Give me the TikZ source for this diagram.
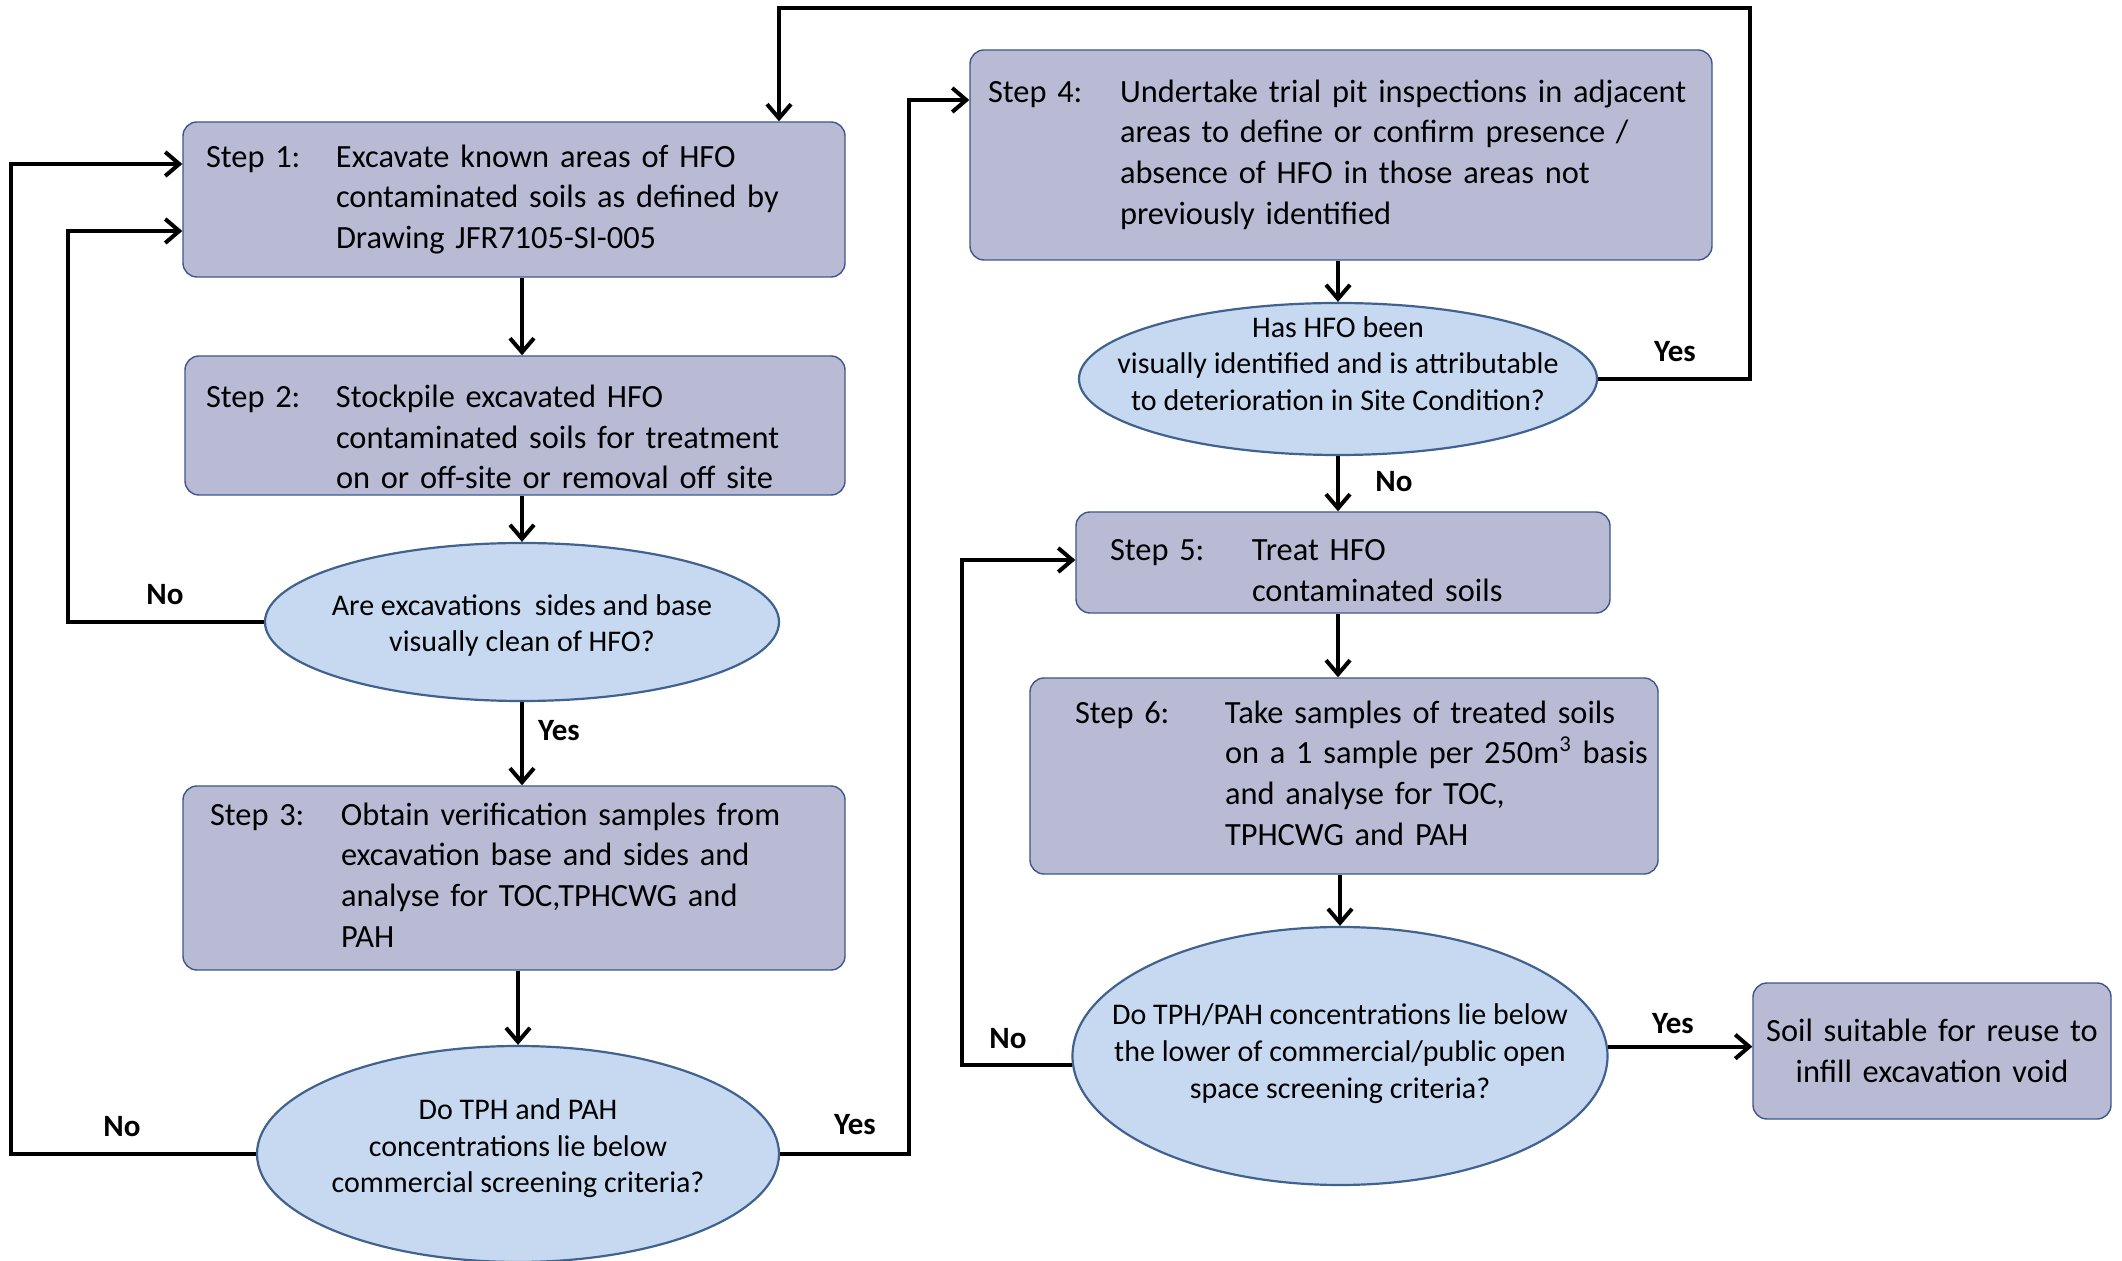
\documentclass[tikz,border=0pt]{standalone}
\usepackage{fontspec}
\setmainfont{Carlito}
\usepackage{tikz}
\usepackage{xcolor}
\usetikzlibrary{shapes.geometric, arrows.meta, positioning, calc}

\definecolor{boxfill}{RGB}{185,187,213}
\definecolor{boxedge}{RGB}{62,86,140}
\definecolor{qfill}{RGB}{198,217,240}
\definecolor{qedge}{RGB}{65,98,143}

\tikzset{
  stepbox/.style={draw=boxedge, line width=0.7pt, fill=boxfill, rounded corners=7pt,
    align=left, inner ysep=0pt, font=\fontsize{16.2}{20.3}\selectfont},
  decision/.style={ellipse, draw=qedge, line width=1.1pt, fill=qfill, inner sep=0pt,
    font=\fontsize{15}{18.3}\selectfont},
  answer/.style={font=\bfseries\fontsize{15.5}{18}\selectfont},
  flow/.style={line width=2pt, -{Straight Barb[length=7pt,width=12pt]}}
}

% step label + text column
\newcommand{\steptext}[3]{\makebox[#2][l]{#1}\begin{tabular}[t]{@{}l@{}}#3\end{tabular}}
% question text, kept out of the ellipse size
\newcommand{\qtext}[2][0pt]{\raisebox{#1}[0pt][0pt]{\smash{\makebox[0pt]{\begin{tabular}{@{}c@{}}#2\end{tabular}}}}}

\begin{document}
\begin{tikzpicture}[x=0.5pt, y=-0.5pt]
\path[use as bounding box, clip] (0,0) rectangle (2122,1261);

% Left column
\node[stepbox, text width=308pt, inner xsep=11.5pt, minimum height=77.5pt] (b1) at (514,199.5)
  {\steptext{Step 1:}{65pt}{Excavate known areas of HFO\\ contaminated soils as defined by\\ Drawing JFR7105-SI-005}};
\node[stepbox, text width=309pt, inner xsep=10.5pt, minimum height=69.5pt, text depth=32pt] (b2) at (515,425.5)
  {\steptext{Step 2:}{65pt}{Stockpile excavated HFO\\ contaminated soils for treatment\\ on or off-site or removal off site}};
\node[decision, minimum width=257pt, minimum height=79pt] (e1) at (522,622)
  {\qtext[-5.7pt]{Are excavations\ \ sides and base\\ visually clean of HFO?}};
\node[stepbox, text width=304pt, inner xsep=13.5pt, minimum height=92pt] (b3) at (514,878)
  {\steptext{Step 3:}{65.5pt}{Obtain verification samples from\\ excavation base and sides and\\ analyse for TOC,TPHCWG and\\ PAH}};
\node[decision, minimum width=261pt, minimum height=108pt] (e2) at (518,1154)
  {\qtext[-1pt]{Do TPH and PAH\\ concentrations lie below\\ commercial screening criteria?}};

% Right column
\node[stepbox, text width=353pt, inner xsep=9pt, minimum height=105pt] (b4) at (1341,155)
  {\steptext{Step 4:}{66pt}{Undertake trial pit inspections in adjacent\\ areas to define or confirm presence /\\ absence of HFO in those areas not\\ previously identified}};
\node[decision, minimum width=259pt, minimum height=76pt] (e3) at (1338,379)
  {\qtext[2.7pt]{Has HFO been\\ visually identified and is attributable\\ to deterioration in Site Condition?}};
\node[stepbox, text width=233pt, inner xsep=17pt, minimum height=50.5pt, text depth=16pt] (b5) at (1343,562.5)
  {\steptext{Step 5:}{71pt}{Treat HFO\\ contaminated soils}};
\node[stepbox, text width=269pt, inner xsep=22.5pt, minimum height=98pt] (b6) at (1344,776)
  {\steptext{Step 6:}{75pt}{Take samples of treated soils\\ on a 1 sample per 250m\textsuperscript{3} basis\\ and analyse for TOC,\\ TPHCWG and PAH}};
\node[decision, minimum width=267.5pt, minimum height=129pt] (e4) at (1340,1056)
  {\qtext[-2.7pt]{Do TPH/PAH concentrations lie below\\ the lower of commercial/public open\\ space screening criteria?}};
\node[stepbox, align=center, text width=177pt, inner xsep=1pt, minimum height=68pt] (b7) at (1932,1051)
  {Soil suitable for reuse to\\ infill excavation void};

% Straight links
\draw[flow] (b1.south -| e1.north) -- (b2.north -| e1.north);
\draw[flow] (b2.south -| e1.north) -- (e1.north);
\draw[flow] (e1.south) -- (b3.north -| e1.south);
\draw[flow] (b3.south -| e2.north) -- (e2.north);
\draw[flow] (b4.south -| e3.north) -- (e3.north);
\draw[flow] (e3.south) -- (b5.north -| e3.south);
\draw[flow] (b5.south -| e3.south) -- (b6.north -| e3.south);
\draw[flow] (b6.south -| e4.north) -- (e4.north);
\draw[flow] (e4.2) -- (e4.2 -| b7.west);

% Loops
\coordinate (c1) at (68,231);
\coordinate (c2) at (11,164);
\coordinate (c3) at (909,100);
\coordinate (c4) at (1750,8);
\coordinate (c5) at (779,8);
\coordinate (c6) at (962,560);
\draw[flow] (e1.west) -| (c1) -- (c1 -| b1.west);
\draw[flow] (e2.west) -| (c2) -- (c2 -| b1.west);
\draw[flow] (e2.east) -| (c3) -- (c3 -| b4.west);
\draw[flow] (e3.east) -| (c4) -- (c5) -- (c5 |- b1.north);
\draw[flow] (e4.182) -| (c6) -- (c6 -| b5.west);

% Answers
\node[answer] (n1) at (165,595) {No};
\node[answer] (y1) at (559,731) {Yes};
\node[answer] (n2) at (122,1127) {No};
\node[answer] (y2) at (855,1125) {Yes};
\node[answer] (y3) at (1675,352) {Yes};
\node[answer] (n3) at (1394,482) {No};
\node[answer] (n4) at (1008,1039) {No};
\node[answer] (y4) at (1673,1024) {Yes};
\end{tikzpicture}
\end{document}
